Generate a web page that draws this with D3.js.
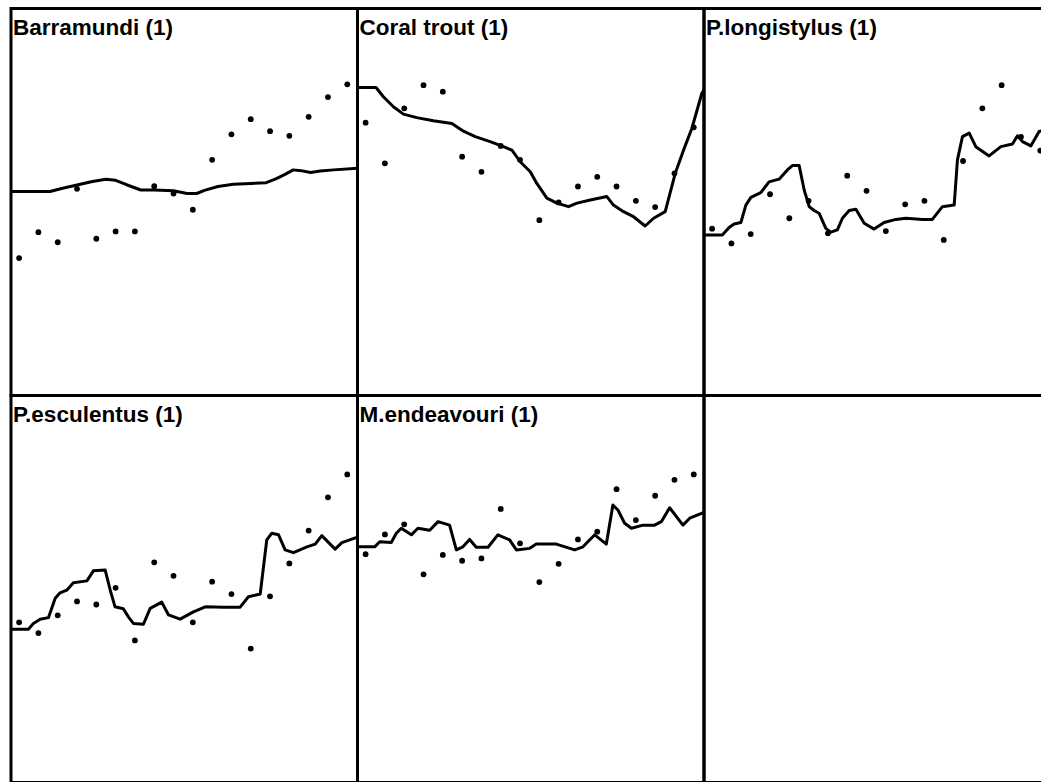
<!DOCTYPE html>
<html>
<head>
<meta charset="utf-8">
<script src="https://cdn.jsdelivr.net/npm/d3@7"></script>
<style>
  html, body { margin: 0; padding: 0; background: #fff; }
  svg { display: block; }
</style>
</head>
<body>
<svg id="chart" width="1041" height="782"></svg>
<script>
// ---------------- data ----------------
const panelTitles = ["Barramundi (1)", "Coral trout (1)", "P.longistylus (1)", "P.esculentus (1)", "M.endeavouri (1)", ""];

// survey index (x) of each observed point
const surveys = [0, 1, 2, 3, 4, 5, 6, 7, 8, 9, 10, 11, 12, 13, 14, 15, 16, 17];

// observed indices (points), relative scale 0-100
const barramundiPoints   = [35.5, 42.2, 39.6, 53.4, 40.5, 42.4, 42.4, 54.1, 52.2, 48.0, 60.9, 67.5, 71.4, 68.3, 67.1, 72.0, 77.1, 80.4];
const coralTroutPoints   = [70.5, 60.0, 74.2, 80.2, 78.5, 61.7, 57.8, 64.5, 60.9, 45.3, 49.9, 54.0, 56.5, 54.0, 50.3, 48.7, 57.4, 69.3];
const longistylusPoints  = [43.1, 39.3, 41.7, 52.0, 45.8, 50.3, 41.9, 56.8, 52.9, 42.5, 49.4, 50.3, 40.2, 60.6, 74.2, 80.2, 66.8, 63.3];
const esculentusPoints   = [41.4, 38.6, 43.2, 46.8, 46.0, 50.3, 36.7, 56.9, 53.4, 41.4, 51.9, 48.7, 34.6, 48.1, 56.6, 65.1, 73.7, 79.6];
const endeavouriPoints   = [59.0, 64.1, 66.7, 53.8, 58.8, 57.3, 57.9, 70.7, 61.8, 51.8, 56.5, 62.8, 64.8, 75.8, 67.8, 74.1, 78.2, 79.6];

// fitted trajectories: [survey time, value]
const barramundiLine = [[-0.42,52.7],[1.6,52.7],[2.2,53.5],[3.0,54.4],[3.8,55.3],[4.5,55.9],[5.0,55.6],[5.6,54.4],[6.3,53.1],[7.0,53.1],[8.0,52.9],[8.7,52.2],[9.2,52.2],[9.6,53.0],[10.3,54.0],[11.1,54.6],[12.0,54.8],[12.8,55.0],[13.3,56.0],[13.8,57.2],[14.2,58.3],[14.6,58.1],[15.1,57.6],[15.6,58.0],[16.3,58.3],[17.53,58.7]];
const coralTroutLine = [[-0.42,79.6],[0.54,79.6],[0.92,77.2],[1.44,74.6],[1.96,72.7],[2.65,71.8],[3.51,71.0],[4.47,70.3],[5.07,68.3],[5.68,66.9],[6.45,65.6],[7.14,64.3],[7.58,63.4],[8.01,60.4],[8.53,57.8],[8.87,54.8],[9.39,51.0],[9.91,49.7],[10.51,48.8],[10.95,49.7],[11.64,50.5],[12.50,51.4],[12.84,49.2],[13.36,47.5],[13.88,46.2],[14.48,43.8],[14.92,45.8],[15.52,47.5],[16.04,57.4],[16.47,63.4],[16.90,69.0],[17.42,78.1],[17.53,79.0]];
const longistylusLine = [[-0.42,41.5],[0.53,41.5],[0.88,43.4],[1.14,44.3],[1.49,44.7],[1.75,49.2],[2.01,51.2],[2.52,52.4],[2.95,55.2],[3.47,55.9],[3.90,58.3],[4.16,59.4],[4.51,59.4],[4.77,53.1],[5.03,48.8],[5.28,47.8],[5.54,47.1],[5.89,43.2],[6.15,42.2],[6.49,42.8],[6.75,45.8],[7.10,47.8],[7.45,48.1],[7.88,44.5],[8.39,43.0],[8.91,44.7],[9.52,45.5],[10.04,45.8],[10.90,45.5],[11.41,45.5],[11.93,48.8],[12.54,49.2],[12.71,60.9],[12.97,66.9],[13.32,67.8],[13.66,64.3],[14.35,61.9],[14.96,64.3],[15.56,65.0],[15.82,67.1],[16.08,65.6],[16.51,64.5],[16.94,68.2],[17.53,69.0]];
const esculentusLine = [[-0.42,39.6],[0.48,39.6],[0.74,41.1],[1.09,42.2],[1.52,42.6],[1.87,47.6],[2.12,49.0],[2.47,49.7],[2.81,51.6],[3.51,52.1],[3.85,54.7],[4.46,54.9],[4.72,49.7],[4.97,45.4],[5.40,44.9],[5.66,42.8],[5.92,41.1],[6.44,40.9],[6.79,45.0],[7.39,46.6],[7.74,43.3],[8.34,42.2],[9.03,44.1],[9.64,45.4],[10.59,45.3],[11.45,45.3],[11.88,48.0],[12.49,48.7],[12.83,62.7],[13.09,64.4],[13.44,64.0],[13.78,60.1],[14.21,59.4],[14.91,60.9],[15.34,61.6],[15.68,63.8],[16.37,60.3],[16.72,62.0],[17.53,63.4]];
const endeavouriLine = [[-0.42,60.9],[0.47,60.9],[0.73,62.2],[1.33,62.0],[1.59,64.4],[1.85,65.7],[2.37,64.0],[2.71,65.7],[3.32,65.2],[3.75,67.4],[4.35,66.5],[4.70,60.1],[5.04,60.9],[5.39,62.8],[5.73,60.8],[6.34,60.8],[6.85,64.0],[7.46,62.7],[7.81,60.1],[8.50,60.5],[8.84,61.6],[9.88,61.6],[10.83,60.1],[11.26,60.9],[11.87,64.0],[12.47,61.6],[12.81,71.7],[13.07,70.4],[13.42,67.0],[13.77,65.7],[14.37,66.5],[14.97,66.5],[15.32,67.4],[15.75,71.0],[16.44,66.5],[16.79,68.3],[17.53,69.8]];

const panels = [
  { title: panelTitles[0], points: barramundiPoints,  line: barramundiLine },
  { title: panelTitles[1], points: coralTroutPoints,  line: coralTroutLine },
  { title: panelTitles[2], points: longistylusPoints, line: longistylusLine },
  { title: panelTitles[3], points: esculentusPoints,  line: esculentusLine },
  { title: panelTitles[4], points: endeavouriPoints,  line: endeavouriLine },
  { title: panelTitles[5], points: [],                line: [] }
];

// ---------------- layout ----------------
const gridLeft = 11, gridTop = 8.5, cellW = 346.5, cellH = 387, nCols = 3;

const svg = d3.select("#chart");

panels.forEach((p, i) => {
  const col = i % nCols, row = Math.floor(i / nCols);
  const x0 = gridLeft + col * cellW, y0 = gridTop + row * cellH;

  const x = d3.scaleLinear().domain([-0.42, 17.53]).range([x0, x0 + cellW]);
  const y = d3.scaleLinear().domain([0, 100]).range([y0 + cellH, y0]);

  const g = svg.append("g");
  const clipId = "clip" + i;
  g.append("clipPath").attr("id", clipId)
    .append("rect").attr("x", x0).attr("y", y0).attr("width", cellW).attr("height", cellH);

  const inner = g.append("g").attr("clip-path", `url(#${clipId})`);

  if (p.line.length) {
    inner.append("path")
      .datum(p.line)
      .attr("fill", "none")
      .attr("stroke", "#000")
      .attr("stroke-width", 3)
      .attr("stroke-linejoin", "round")
      .attr("d", d3.line().x(d => x(d[0])).y(d => y(d[1])));
  }

  inner.selectAll("circle")
    .data(p.points)
    .join("circle")
    .attr("cx", (d, j) => x(surveys[j]))
    .attr("cy", d => y(d))
    .attr("r", 2.9)
    .attr("fill", "#000");

  if (p.title) {
    g.append("text")
      .attr("x", x0 + 2)
      .attr("y", y0 + 26.5)
      .attr("font-family", "Liberation Sans, Arial, sans-serif")
      .attr("font-size", 22.5)
      .attr("font-weight", "bold")
      .attr("fill", "#000")
      .text(p.title);
  }

  g.append("rect")
    .attr("x", x0).attr("y", y0)
    .attr("width", cellW).attr("height", cellH)
    .attr("fill", "none")
    .attr("stroke", "#000")
    .attr("stroke-width", 3);
});
</script>
</body>
</html>
